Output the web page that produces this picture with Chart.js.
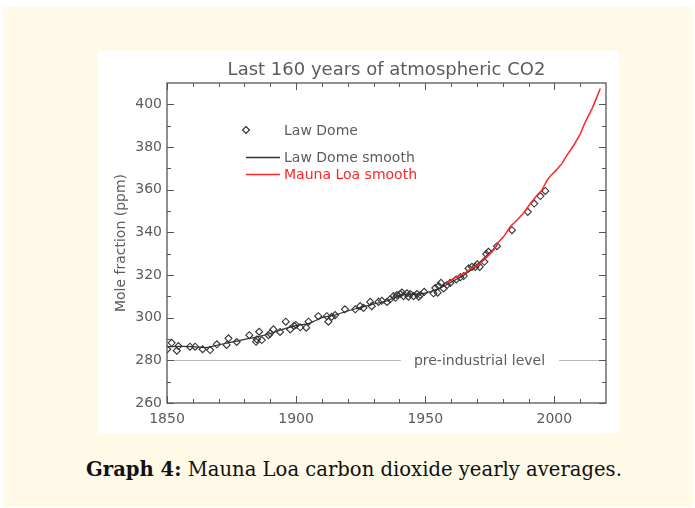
<!DOCTYPE html>
<html>
<head>
<meta charset="utf-8">
<script src="https://cdn.jsdelivr.net/npm/chart.js@4.4.0/dist/chart.umd.min.js"></script>
<style>
  html, body { margin: 0; padding: 0; background: #ffffff; width: 695px; height: 508px; overflow: hidden; }
  #cream { position: absolute; left: 3px; top: 7px; width: 690px; height: 500px; background: #FFFAE8; }
  #paper { position: absolute; left: 98px; top: 51px; width: 521px; height: 382px; background: #ffffff; }
  #chart { position: absolute; left: 0; top: 0; }
  #caption { position: absolute; left: 0; width: 708px; top: 459px; line-height: 22px; text-align: center;
             font-family: "DejaVu Serif", serif; font-size: 19.6px; color: #111; }
  #caption b { font-weight: bold; }
</style>
</head>
<body>
<div id="cream"></div>
<div id="paper"><canvas id="chart" width="521" height="382"></canvas></div>
<div id="caption"><b>Graph 4:</b> Mauna Loa carbon dioxide yearly averages.</div>
<script>
// ---- data ----
const lawDomeYears = [1850.1,1851.8,1853.8,1854.4,1858.9,1860.9,1863.8,1866.7,1869.3,1873.1,1873.8,1877.0,1881.9,1884.5,1884.8,1885.7,1886.7,1889.3,1889.9,1891.2,1893.8,1896.0,1897.7,1899.2,1899.9,1901.6,1903.9,1904.8,1908.6,1911.9,1912.5,1913.8,1915.1,1918.9,1922.9,1924.8,1926.1,1928.7,1929.3,1931.9,1933.2,1935.2,1936.4,1937.7,1938.5,1939.0,1940.3,1941.0,1941.6,1942.9,1943.5,1944.2,1945.5,1946.8,1947.5,1948.1,1949.6,1953.2,1953.9,1954.8,1955.2,1956.1,1957.1,1958.4,1959.7,1962.0,1963.6,1964.9,1966.8,1968.1,1969.4,1970.1,1971.1,1972.9,1973.6,1974.5,1977.8,1983.6,1989.7,1992.2,1994.6,1996.5];
const lawDomePpm   = [285.2,288.2,284.5,286.7,286.4,286.4,285.2,284.8,287.5,287.2,290.3,288.6,291.8,288.7,289.8,293.4,289.5,291.8,292.6,294.5,293.3,298.1,294.5,296.2,296.6,295.5,295.3,298.1,300.7,300.7,298.1,300.4,301.2,303.9,303.9,305.4,304.6,307.4,305.4,307.4,307.9,307.4,308.6,310.1,309.3,310.6,311.1,311.8,310.1,311.4,309.8,311.1,310.1,311.1,309.8,310.6,312.1,311.4,313.9,311.7,314.8,316.3,313.7,315.3,316.3,317.9,318.9,319.5,323.1,323.8,323.8,325.0,323.8,326.2,329.8,330.9,333.5,341.0,349.6,353.5,357.0,359.4];

const smoothYears = [1850,1855,1860,1865,1870,1875,1880,1885,1890,1895,1900,1905,1910,1915,1920,1925,1930,1935,1940,1945,1950,1955,1960,1965,1970,1975,1978];
const smoothPpm   = [286.4,286.5,286.4,286.0,287.3,288.5,289.8,291.0,292.6,294.6,296.3,297.3,300.0,301.2,303.2,304.8,306.4,307.8,310.4,311.0,311.5,313.5,316.6,320.0,324.8,330.5,334.0];

const maunaYears = [1958,1961,1965,1967.4,1971.3,1973.9,1976.5,1978.4,1980.3,1982.9,1985.5,1988.1,1990.7,1993.3,1995.2,1996.5,1997.2,1998.7,2000.4,2003,2004.9,2007.5,2010.1,2012,2014.6,2016.5,2017.8];
const maunaPpm   = [316.0,318.4,320.7,322.6,325.4,328.5,331.7,335.5,337.9,342.6,345.7,349.1,353.5,357.4,359.8,362.9,364.4,366.8,368.7,372.3,376.2,380.8,386.3,391.8,398.0,403.5,407.4];

const xTickLabels = [1850, 1900, 1950, 2000];
const yTickLabels = [260, 280, 300, 320, 340, 360, 380, 400];
const xMinorTicks = [1860,1870,1880,1890,1910,1920,1930,1940,1960,1970,1980,1990,2010];
const yMinorTicks = [270,290,310,330,350,370,390];
const preIndustrialLevel = 280;
const preIndustrialLabelYear = 1971;

const titleText = 'Last 160 years of atmospheric CO2';
const yAxisTitle = 'Mole fraction (ppm)';
const seriesNames = ['Law Dome', 'Law Dome smooth', 'Mauna Loa smooth'];
const preIndustrialText = 'pre-industrial level';

// ---- styling ----
const FONT = '"DejaVu Sans", sans-serif';
const TXT = '#5c5c5c';
const AXIS = '#555555';
const DIAMOND = '#333333';
const RED = '#ff2626';

const zip = (xs, ys) => xs.map((x, i) => ({ x: x, y: ys[i] }));

const decor = {
  id: 'decor',
  beforeDatasetsDraw(chart) {
    const { ctx, chartArea: a, scales: { x, y } } = chart;
    ctx.save();
    ctx.font = '14px ' + FONT;
    const py = Math.round(y.getPixelForValue(preIndustrialLevel)) + 0.5;
    const cx = x.getPixelForValue(preIndustrialLabelYear);
    const w = ctx.measureText(preIndustrialText).width;
    ctx.strokeStyle = '#b8b8b8';
    ctx.lineWidth = 1;
    ctx.beginPath();
    ctx.moveTo(a.left, py); ctx.lineTo(cx - w / 2 - 13, py);
    ctx.moveTo(cx + w / 2 + 14, py); ctx.lineTo(a.right, py);
    ctx.stroke();
    ctx.fillStyle = TXT;
    ctx.textAlign = 'center';
    ctx.textBaseline = 'middle';
    ctx.fillText(preIndustrialText, cx, py + 1);
    ctx.restore();
  },
  afterDatasetsDraw(chart) {
    const { ctx, chartArea: a, scales: { x, y } } = chart;
    ctx.save();
    ctx.strokeStyle = AXIS;
    ctx.lineWidth = 1.3;
    ctx.strokeRect(a.left, a.top, a.right - a.left, a.bottom - a.top);
    ctx.lineWidth = 1;
    ctx.beginPath();
    const xt = (v, len) => {
      const px = Math.round(x.getPixelForValue(v)) + 0.5;
      ctx.moveTo(px, a.bottom); ctx.lineTo(px, a.bottom - len);
      ctx.moveTo(px, a.top); ctx.lineTo(px, a.top + len);
    };
    const yt = (v, len) => {
      const py = Math.round(y.getPixelForValue(v)) + 0.5;
      ctx.moveTo(a.left, py); ctx.lineTo(a.left + len, py);
      ctx.moveTo(a.right, py); ctx.lineTo(a.right - len, py);
    };
    xTickLabels.forEach(v => xt(v, 7));
    xMinorTicks.forEach(v => xt(v, 4));
    yTickLabels.forEach(v => yt(v, 7));
    yMinorTicks.forEach(v => yt(v, 4));
    ctx.stroke();
    ctx.restore();
  },
  afterDraw(chart) {
    const { ctx, chartArea: a } = chart;
    ctx.save();
    ctx.fillStyle = TXT;
    // title
    ctx.font = '18px ' + FONT;
    ctx.textAlign = 'center';
    ctx.textBaseline = 'middle';
    ctx.fillText(titleText, (a.left + a.right) / 2, 19);
    // y axis title
    ctx.font = '14px ' + FONT;
    ctx.save();
    ctx.translate(23, 192);
    ctx.rotate(-Math.PI / 2);
    ctx.fillText(yAxisTitle, 0, 0);
    ctx.restore();
    // legend
    ctx.textAlign = 'left';
    const lx = 148, tx = 186;
    const rows = [79, 106, 123];
    ctx.strokeStyle = DIAMOND;
    ctx.lineWidth = 1.2;
    ctx.beginPath();
    const r = 3.5, dx = lx, dy = rows[0];
    ctx.moveTo(dx, dy - r); ctx.lineTo(dx + r, dy); ctx.lineTo(dx, dy + r); ctx.lineTo(dx - r, dy); ctx.closePath();
    ctx.stroke();
    ctx.strokeStyle = '#333333';
    ctx.lineWidth = 1.3;
    ctx.beginPath(); ctx.moveTo(lx, rows[1] + 0.5); ctx.lineTo(182, rows[1] + 0.5); ctx.stroke();
    ctx.strokeStyle = RED;
    ctx.beginPath(); ctx.moveTo(lx, rows[2] + 0.5); ctx.lineTo(182, rows[2] + 0.5); ctx.stroke();
    ctx.fillStyle = TXT;
    ctx.fillText(seriesNames[0], tx, rows[0] + 1);
    ctx.fillText(seriesNames[1], tx, rows[1] + 1);
    ctx.fillStyle = RED;
    ctx.fillText(seriesNames[2], tx, rows[2] + 1);
    ctx.restore();
  }
};

new Chart(document.getElementById('chart'), {
  type: 'scatter',
  data: {
    datasets: [
      {
        label: seriesNames[2],
        data: zip(maunaYears, maunaPpm),
        showLine: true,
        borderColor: RED,
        borderWidth: 1.5,
        pointRadius: 0,
        tension: 0
      },
      {
        label: seriesNames[0],
        data: zip(lawDomeYears, lawDomePpm),
        showLine: false,
        pointStyle: 'rectRot',
        pointRadius: 3.5,
        pointBorderWidth: 1.1,
        pointBorderColor: DIAMOND,
        pointBackgroundColor: 'rgba(0,0,0,0)'
      },
      {
        label: seriesNames[1],
        data: zip(smoothYears, smoothPpm),
        showLine: true,
        borderColor: '#333333',
        borderWidth: 1.2,
        pointRadius: 0,
        tension: 0.3
      }
    ]
  },
  options: {
    responsive: false,
    animation: false,
    devicePixelRatio: 1,
    layout: { padding: { left: 0, top: 32, right: 13, bottom: 0 } },
    plugins: { legend: { display: false }, tooltip: { enabled: false }, title: { display: false } },
    scales: {
      x: {
        type: 'linear', min: 1850, max: 2020,
        grid: { display: false, drawTicks: false },
        border: { display: false },
        afterBuildTicks: s => { s.ticks = xTickLabels.map(v => ({ value: v })); },
        afterFit: s => { s.height = 30; },
        ticks: { padding: 8, color: TXT, font: { family: FONT, size: 14 }, maxRotation: 0, callback: v => String(v) }
      },
      y: {
        type: 'linear', min: 260, max: 410,
        grid: { display: false, drawTicks: false },
        border: { display: false },
        afterBuildTicks: s => { s.ticks = yTickLabels.map(v => ({ value: v })); },
        afterFit: s => { s.width = 69; },
        ticks: { padding: 5, color: TXT, font: { family: FONT, size: 14 }, callback: v => String(v) }
      }
    }
  },
  plugins: [decor]
});
</script>
</body>
</html>
